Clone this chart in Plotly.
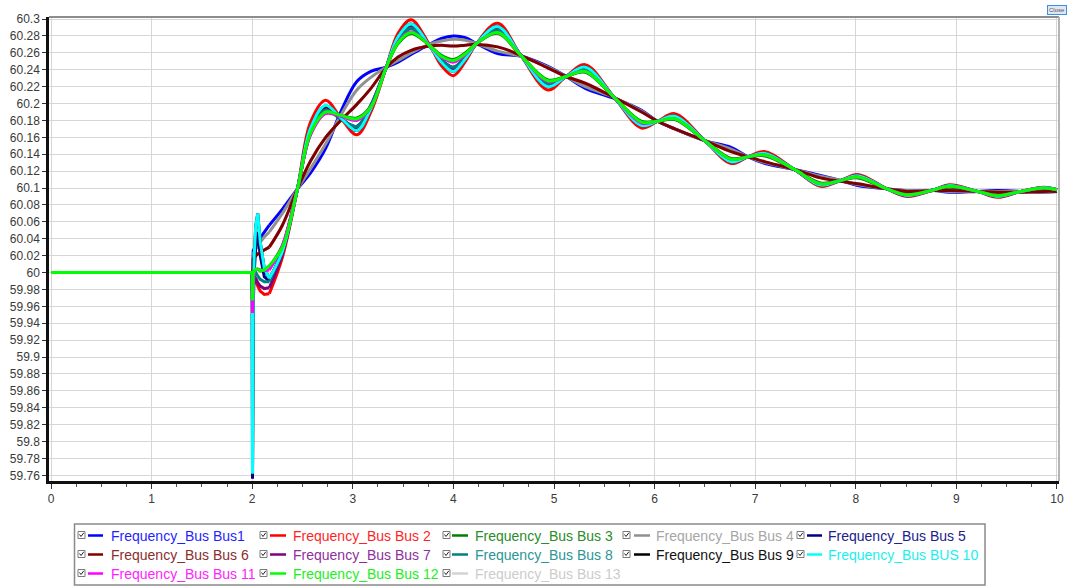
import plotly.graph_objects as go

# ---------------- data ----------------
T_SPIKE = [0, 2.0, 2.003, 2.006, 2.01, 2.02, 2.035, 2.055, 2.08, 2.12, 2.17]
T_MAIN = [2.17, 2.3, 2.45, 2.58, 2.73, 2.88, 3.04, 3.18, 3.33, 3.45, 3.58, 3.76, 3.88, 4.0,
          4.12, 4.23, 4.44, 4.67, 4.94, 5.12, 5.31, 5.6, 5.87, 6.03, 6.2, 6.5, 6.76, 6.93,
          7.1, 7.39, 7.65, 7.85, 8.02, 8.31, 8.51, 8.78, 8.93, 9.21, 9.41, 9.64, 9.87, 10.0]

SERIES_NAMES = ["Frequency_Bus Bus1", "Frequency_Bus Bus 2", "Frequency_Bus Bus 3",
                "Frequency_Bus Bus 4", "Frequency_Bus Bus 5", "Frequency_Bus Bus 6",
                "Frequency_Bus Bus 7", "Frequency_Bus Bus 8", "Frequency_Bus Bus 9",
                "Frequency_Bus BUS 10", "Frequency_Bus Bus 11", "Frequency_Bus Bus 12",
                "Frequency_Bus Bus 13"]

bus1_spike = [60, 60, 59.99, 60.02, 60.026, 60.028, 60.032, 60.036, 60.041, 60.048, 60.056]
bus1_main = [60.056, 60.075, 60.099, 60.118, 60.147, 60.19, 60.226, 60.238, 60.243, 60.249, 60.258,
             60.27, 60.277, 60.28, 60.278, 60.271, 60.259, 60.256, 60.244, 60.232, 60.218, 60.206,
             60.192, 60.179, 60.17, 60.156, 60.148, 60.137, 60.129, 60.122, 60.115, 60.109, 60.103,
             60.099, 60.097, 60.097, 60.095, 60.096, 60.097, 60.096, 60.095, 60.096]

bus2_spike = [60, 60, 59.96, 59.985, 59.993, 59.995, 59.99, 59.984, 59.978, 59.974, 59.975]
bus2_main = [59.975, 60.018, 60.099, 60.178, 60.204, 60.183, 60.163, 60.19, 60.242, 60.283, 60.299,
             60.27, 60.245, 60.233, 60.25, 60.271, 60.295, 60.257, 60.216, 60.232, 60.246, 60.207,
             60.171, 60.179, 60.188, 60.156, 60.129, 60.137, 60.143, 60.122, 60.102, 60.109, 60.116,
             60.099, 60.09, 60.098, 60.104, 60.096, 60.089, 60.096, 60.101, 60.098]

bus3_spike = [60, 60, 59.97, 59.99, 60.0, 60.002, 60.004, 60.004, 60.002, 60.003, 60.007]
bus3_main = [60.007, 60.032, 60.099, 60.164, 60.189, 60.186, 60.183, 60.197, 60.242, 60.271, 60.283,
             60.269, 60.257, 60.252, 60.26, 60.271, 60.283, 60.257, 60.228, 60.232, 60.237, 60.207,
             60.179, 60.179, 60.181, 60.156, 60.135, 60.137, 60.138, 60.122, 60.106, 60.109, 60.112,
             60.099, 60.093, 60.098, 60.101, 60.096, 60.092, 60.096, 60.099, 60.098]

bus4_spike = [60, 60, 59.98, 60.015, 60.022, 60.025, 60.028, 60.032, 60.036, 60.042, 60.048]
bus4_main = [60.048, 60.07, 60.099, 60.123, 60.152, 60.186, 60.216, 60.231, 60.243, 60.251, 60.26,
             60.27, 60.274, 60.276, 60.275, 60.271, 60.262, 60.256, 60.243, 60.232, 60.22, 60.207,
             60.191, 60.179, 60.17, 60.156, 60.146, 60.137, 60.13, 60.122, 60.114, 60.109, 60.104,
             60.099, 60.097, 60.097, 60.096, 60.096, 60.096, 60.096, 60.095, 60.096]

bus5_spike = [60, 60, 59.756, 59.85, 59.96, 60.0, 60.03, 60.048, 60.02, 59.995, 59.99]
bus5_main = [59.99, 60.028, 60.099, 60.165, 60.192, 60.182, 60.173, 60.198, 60.242, 60.275, 60.289,
             60.269, 60.252, 60.243, 60.255, 60.271, 60.287, 60.257, 60.223, 60.232, 60.24, 60.207,
             60.176, 60.179, 60.183, 60.156, 60.133, 60.137, 60.14, 60.122, 60.105, 60.109, 60.113,
             60.099, 60.092, 60.098, 60.102, 60.096, 60.091, 60.096, 60.1, 60.098]

bus6_spike = [60, 60, 59.98, 60.01, 60.016, 60.018, 60.02, 60.022, 60.024, 60.027, 60.03]
bus6_main = [60.03, 60.056, 60.099, 60.132, 60.16, 60.18, 60.199, 60.218, 60.242, 60.255, 60.263,
             60.268, 60.269, 60.268, 60.269, 60.27, 60.267, 60.257, 60.242, 60.232, 60.224, 60.207,
             60.19, 60.179, 60.17, 60.156, 60.143, 60.137, 60.131, 60.122, 60.112, 60.108, 60.105,
             60.099, 60.096, 60.097, 60.097, 60.096, 60.095, 60.095, 60.096, 60.096]

bus7_spike = [60, 60, 59.955, 59.975, 59.99, 59.995, 59.993, 59.988, 59.984, 59.981, 59.982]
bus7_main = [59.982, 60.022, 60.099, 60.168, 60.195, 60.183, 60.17, 60.196, 60.242, 60.277, 60.291,
             60.269, 60.25, 60.24, 60.254, 60.271, 60.289, 60.257, 60.221, 60.232, 60.241, 60.207,
             60.175, 60.179, 60.184, 60.156, 60.132, 60.137, 60.14, 60.122, 60.104, 60.109, 60.114,
             60.099, 60.091, 60.098, 60.103, 60.096, 60.09, 60.096, 60.1, 60.098]

bus8_spike = [60, 60, 59.96, 59.98, 59.995, 60.0, 60.0, 59.996, 59.992, 59.989, 59.989]
bus8_main = [59.989, 60.028, 60.099, 60.165, 60.192, 60.182, 60.173, 60.198, 60.242, 60.275, 60.289,
             60.269, 60.252, 60.243, 60.255, 60.271, 60.287, 60.257, 60.223, 60.232, 60.24, 60.207,
             60.176, 60.179, 60.183, 60.156, 60.133, 60.137, 60.1396, 60.122, 60.105, 60.109, 60.113,
             60.099, 60.0917, 60.098, 60.102, 60.096, 60.0907, 60.096, 60.0996, 60.098]

bus9_spike = [60, 60, 59.762, 59.87, 59.97, 60.02, 60.055, 60.07, 60.036, 60.005, 59.993]
bus9_main = [59.993, 60.025, 60.099, 60.171, 60.197, 60.183, 60.168, 60.194, 60.242, 60.279, 60.294,
             60.269, 60.249, 60.238, 60.253, 60.271, 60.291, 60.257, 60.22, 60.232, 60.243, 60.207,
             60.174, 60.179, 60.185, 60.156, 60.131, 60.137, 60.141, 60.122, 60.1035, 60.109, 60.1144,
             60.099, 60.091, 60.098, 60.103, 60.096, 60.09, 60.096, 60.1005, 60.098]

bus10_spike = [60, 60, 59.762, 59.87, 59.97, 60.02, 60.055, 60.07, 60.036, 60.005, 59.993]
bus10_main = [59.993, 60.025, 60.099, 60.171, 60.198, 60.183, 60.168, 60.194, 60.242, 60.279, 60.294,
              60.269, 60.249, 60.238, 60.253, 60.271, 60.291, 60.257, 60.22, 60.232, 60.243, 60.207,
              60.174, 60.179, 60.185, 60.156, 60.131, 60.137, 60.141, 60.122, 60.1035, 60.109, 60.1144,
              60.099, 60.091, 60.098, 60.103, 60.096, 60.09, 60.096, 60.1005, 60.098]

bus11_spike = [60, 60, 59.952, 59.965, 59.99, 60.0, 60.003, 60.004, 60.003, 60.002, 60.003]
bus11_main = [60.003, 60.032, 60.099, 60.163, 60.188, 60.185, 60.18, 60.196, 60.242, 60.273, 60.285,
              60.269, 60.255, 60.249, 60.258, 60.271, 60.284, 60.257, 60.226, 60.232, 60.238, 60.207,
              60.177, 60.179, 60.182, 60.156, 60.134, 60.137, 60.139, 60.122, 60.105, 60.109, 60.113,
              60.099, 60.092, 60.098, 60.102, 60.096, 60.091, 60.096, 60.1, 60.098]

bus12_spike = [60, 60, 59.967, 59.98, 59.998, 60.002, 60.004, 60.004, 60.002, 60.003, 60.008]
bus12_main = [60.008, 60.03, 60.099, 60.165, 60.19, 60.186, 60.182, 60.196, 60.242, 60.272, 60.284,
              60.269, 60.256, 60.251, 60.259, 60.271, 60.284, 60.257, 60.227, 60.232, 60.238, 60.207,
              60.178, 60.179, 60.182, 60.156, 60.134, 60.137, 60.139, 60.122, 60.105, 60.109, 60.113,
              60.099, 60.092, 60.098, 60.102, 60.096, 60.091, 60.096, 60.1, 60.098]

bus13_spike = [60, 60, 59.98, 60.01, 60.016, 60.018, 60.02, 60.022, 60.024, 60.027, 60.03]
bus13_main = [60.03, 60.056, 60.099, 60.132, 60.16, 60.18, 60.199, 60.218, 60.242, 60.255, 60.263,
              60.268, 60.269, 60.268, 60.269, 60.27, 60.267, 60.257, 60.242, 60.232, 60.224, 60.207,
              60.19, 60.179, 60.17, 60.156, 60.143, 60.137, 60.131, 60.122, 60.112, 60.108, 60.105,
              60.099, 60.096, 60.097, 60.097, 60.096, 60.095, 60.095, 60.096, 60.096]

Y_TICK_LABELS = ["59.76", "59.78", "59.8", "59.82", "59.84", "59.86", "59.88", "59.9", "59.92",
                 "59.94", "59.96", "59.98", "60", "60.02", "60.04", "60.06", "60.08", "60.1",
                 "60.12", "60.14", "60.16", "60.18", "60.2", "60.22", "60.24", "60.26", "60.28", "60.3"]
X_TICK_LABELS = ["0", "1", "2", "3", "4", "5", "6", "7", "8", "9", "10"]

# ---------------- styles ----------------
LINE_COLORS = ["#0000FF", "#FF0000", "#008000", "#909090", "#000080", "#800000", "#800080",
               "#008080", "#000000", "#00FFFF", "#FF00FF", "#00FF00", "#D3D3D3"]
TEXT_COLORS = ["#1f1fff", "#ff1f1f", "#2a8c2a", "#a6a6a6", "#20208c", "#8a2e2e", "#8e2f9c",
               "#2a9696", "#111111", "#19f0f0", "#ff22ff", "#22ee22", "#cccccc"]

spikes = [bus1_spike, bus2_spike, bus3_spike, bus4_spike, bus5_spike, bus6_spike, bus7_spike,
          bus8_spike, bus9_spike, bus10_spike, bus11_spike, bus12_spike, bus13_spike]
mains = [bus1_main, bus2_main, bus3_main, bus4_main, bus5_main, bus6_main, bus7_main,
         bus8_main, bus9_main, bus10_main, bus11_main, bus12_main, bus13_main]

W, H = 1068, 586
ML, MR, MT, MB = 49, 9, 17, 105
PW, PH = W - ML - MR, H - MT - MB


def px(x):
    return (x - ML) / PW


def py(y):
    return (H - MB - y) / PH


fig = go.Figure()
draw_order = [12] + list(range(12))
for i in draw_order:
    fig.add_trace(go.Scatter(x=T_SPIKE, y=spikes[i], mode="lines", name=SERIES_NAMES[i],
                             line=dict(color=LINE_COLORS[i], width=3), showlegend=False,
                             hoverinfo="skip"))
    fig.add_trace(go.Scatter(x=T_MAIN, y=mains[i], mode="lines", name=SERIES_NAMES[i],
                             line=dict(color=LINE_COLORS[i], width=3, shape="spline", smoothing=1.0),
                             showlegend=False))

shapes = []
annotations = []
shapes.append(dict(type="line", xref="paper", yref="paper", x0=0, x1=1, y0=1, y1=1,
                   line=dict(color="#8c8c8c", width=2), layer="above"))
shapes.append(dict(type="line", xref="paper", yref="paper", x0=1, x1=1, y0=0, y1=1,
                   line=dict(color="#b4b4b4", width=2), layer="above"))

shapes.append(dict(type="rect", xref="paper", yref="paper", x0=px(74.5), x1=px(985), y0=py(524), y1=py(585),
                   line=dict(color="#8a8a8a", width=1.5), fillcolor="white"))
col_cb = [78, 260, 443, 623, 797]
col_line = [(88, 103), (270, 286), (452, 468), (634, 650), (807, 822)]
col_text = [110, 292, 474, 655, 827]
row_y = [536, 555, 574]
for k in range(13):
    r, c = divmod(k, 5)
    yc = row_y[r]
    cb = col_cb[c]
    shapes.append(dict(type="rect", xref="paper", yref="paper", x0=px(cb), x1=px(cb + 7),
                       y0=py(yc - 4.5), y1=py(yc + 2.5), line=dict(color="#7a7a7a", width=1),
                       fillcolor="white"))
    path = "M {:.5f},{:.5f} L {:.5f},{:.5f} L {:.5f},{:.5f}".format(
        px(cb + 1.5), py(yc - 1.5), px(cb + 3), py(yc + 0.5), px(cb + 5.8), py(yc - 3.2))
    shapes.append(dict(type="path", xref="paper", yref="paper", path=path,
                       line=dict(color="#222222", width=1)))
    l0, l1 = col_line[c]
    shapes.append(dict(type="line", xref="paper", yref="paper", x0=px(l0), x1=px(l1),
                       y0=py(yc - 0.5), y1=py(yc - 0.5), line=dict(color=LINE_COLORS[k], width=2.5)))
    annotations.append(dict(xref="paper", yref="paper", x=px(col_text[c]), y=py(yc),
                            xanchor="left", yanchor="middle", showarrow=False, text=SERIES_NAMES[k],
                            font=dict(family="Liberation Sans, Arial, sans-serif", size=14,
                                      color=TEXT_COLORS[k]), borderpad=0))

annotations.append(dict(xref="paper", yref="paper", x=px(1057), y=py(10.5), xanchor="center",
                        yanchor="middle", showarrow=False, text="Close",
                        font=dict(family="Liberation Sans, Arial", size=6, color="#555555"),
                        bgcolor="#dfe8f2", bordercolor="#3c8ee8", borderwidth=1, borderpad=1))

fig.update_layout(
    width=W, height=H, autosize=False,
    margin=dict(l=ML, r=MR, t=MT, b=MB, pad=0, autoexpand=False),
    paper_bgcolor="white", plot_bgcolor="white",
    showlegend=False,
    shapes=shapes, annotations=annotations,
    font=dict(family="Liberation Sans, Arial, sans-serif", size=12, color="#3a3a3a"),
)
fig.update_xaxes(
    range=[-0.02, 10.02], tickvals=[float(v) for v in X_TICK_LABELS], ticktext=X_TICK_LABELS,
    automargin=False,
    showgrid=True, gridcolor="#d6d6d6", gridwidth=1, zeroline=False,
    showline=True, linecolor="#111111", linewidth=2.5,
    ticks="outside", ticklen=5, tickcolor="#333333", tickwidth=1,
    minor=dict(dtick=0.25, ticks="outside", ticklen=3, tickcolor="#555555", showgrid=False),
    tickfont=dict(size=12, color="#3a3a3a"),
)
fig.update_yaxes(
    range=[59.7533, 60.3024], tickvals=[float(v) for v in Y_TICK_LABELS], ticktext=Y_TICK_LABELS,
    automargin=False,
    showgrid=True, gridcolor="#d6d6d6", gridwidth=1, zeroline=False,
    showline=True, linecolor="#111111", linewidth=2.5,
    ticks="outside", ticklen=4, tickcolor="#333333", tickwidth=1,
    tickfont=dict(size=12, color="#3a3a3a"),
)

fig.write_html("out.html", config={"displayModeBar": False},
               post_script="document.body.style.margin='0';")
